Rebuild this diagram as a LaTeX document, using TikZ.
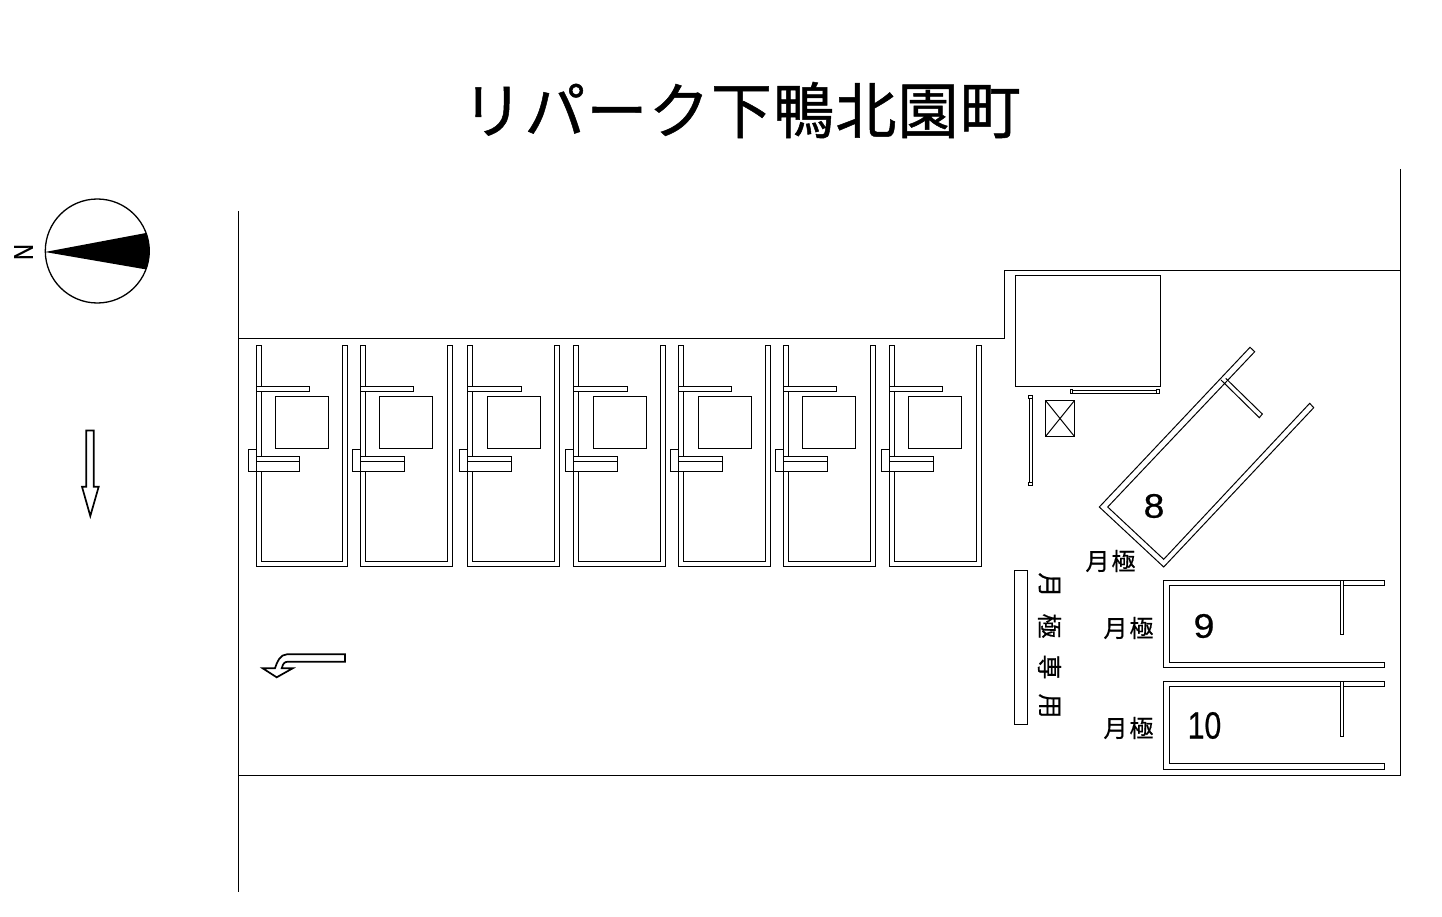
\documentclass[tikz,border=0pt]{standalone}
\usepackage{fontspec}
\setmainfont{Liberation Sans}[FakeBold=0.6]
\newfontfamily\cjk{Noto Sans CJK JP}[FakeBold=0.6]
\newfontfamily\cjktitle{Noto Sans CJK JP}[FakeBold=0.8, LetterSpace=2]
\usetikzlibrary{positioning}
\tikzset{
    wall/.style={draw=black, line width=1.3pt, line join=miter},
    thin wall/.style={draw=black, line width=1pt},
    heavy wall/.style={draw=black, line width=1.7pt},
    solid wall/.style={wall, fill=white},
    monthly/.style={font=\cjk\fontsize{24}{24}\selectfont, inner sep=0pt},
    number/.style={font=\fontsize{34}{34}\selectfont, inner sep=0pt, xscale=1.1}
}

\begin{document}
\begin{tikzpicture}[x=1pt, y=-1pt]
    \useasboundingbox (0,0) rectangle (1442,917);
    % Title
    \node[font=\cjktitle\fontsize{61}{61}\selectfont, inner sep=0pt] (title) at (741.5,110) {リパーク下鴨北園町};
    % Site outline
    \draw[wall] (238.5,211) -- (238.5,892);
    \draw[wall] (238.5,338.5) -- (1004.5,338.5) -- (1004.5,270.5) -- (1400.5,270.5);
    \draw[wall] (1400.5,169) -- (1400.5,775.5) -- (238.5,775.5);
    % Compass
    \draw[wall] (97.3,251) circle[radius=52];
    \fill (45,252) -- (146,233) arc[start angle=-20.5, end angle=20.5, radius=52] -- cycle;
    \node[font=\fontsize{27}{27}\selectfont, inner sep=0pt, rotate=90, xscale=0.8] (north) at (23.5,252) {N};
    % Arrows
    \draw[heavy wall] (86.3,430.5) -- (93.7,430.5) -- (93.7,486.7) -- (98.7,486.7) -- (90.3,516) -- (82,486.7) -- (86.3,486.7) -- cycle;
    \draw[heavy wall] (345,654.3) -- (287,654.3) .. controls (280,654.3) and (277,662) .. (275,668.3) -- (262.7,668.3) -- (276.7,677.3) -- (292.7,668.3) -- (281.7,668.3) .. controls (283,664) and (284,661.7) .. (288,661.7) -- (345,661.7) -- cycle;
    % Parking row
    \foreach \xl/\xr/\xs/\xa/\xb in {256.5/347.5/275.5/309.5/299.5, 360.5/452.5/379.5/413.5/404.5, 467.5/559.5/487.5/521.5/511.5, 573.5/665.5/593.5/627.5/617.5, 678.5/770.5/698.5/731.5/722.5, 783.5/875.5/802.5/836.5/827.5, 889.5/981.5/908.5/942.5/933.5} {
        \pgfmathsetmacro{\xli}{\xl+5}
        \pgfmathsetmacro{\xri}{\xr-5}
        \pgfmathsetmacro{\xt}{\xl-8}
        \draw[wall] (\xl,345.5) -- (\xli,345.5) -- (\xli,561.5) -- (\xri,561.5) -- (\xri,345.5) -- (\xr,345.5) -- (\xr,566.5) -- (\xl,566.5) -- cycle;
        \draw[solid wall] (\xl,386.5) rectangle (\xa,391.5);
        \draw[wall] (\xs,396.5) rectangle ++(53,52);
        \draw[solid wall] (\xt,449.5) rectangle (\xl,471.5);
        \draw[solid wall] (\xl,456.5) rectangle (\xb,471.5);
        \draw[wall] (\xl,461.5) -- (\xb,461.5);
    }
    % Building and fittings
    \draw[wall] (1015.5,275.5) rectangle (1160.5,386.5);
    \draw[thin wall] (1072.7,390) rectangle (1156.7,393);
    \draw[thin wall] (1070.5,389.5) rectangle (1072.7,393.5);
    \draw[thin wall] (1156.7,389.5) rectangle (1159.5,393.5);
    \draw[thin wall] (1029.5,398.5) rectangle (1032.5,482);
    \draw[thin wall] (1028.5,395.5) rectangle (1032.5,398.5);
    \draw[thin wall] (1028.5,482) rectangle (1032.5,485.5);
    \draw[wall] (1045.5,400.5) rectangle (1074.5,436.5);
    \draw[thin wall] (1045.5,400.5) -- (1074.5,436.5);
    \draw[thin wall] (1045.5,436.5) -- (1074.5,400.5);
    % Stall 8
    \draw[thin wall] (1250,347.3) -- (1099.3,507) -- (1163.7,567) -- (1313.7,407.7) -- (1309.7,403.3) -- (1163.7,559.3) -- (1107.7,507) -- (1254.7,351.7) -- cycle;
    \draw[thin wall] (1221,380) -- (1259.3,417.7) -- (1262.3,414) -- (1225.7,378.3);
    % Stalls 9 and 10
    \foreach \yt/\yi/\yb/\yc/\ye in {580.5/585.5/662.5/667.5/634.5, 681.5/686.5/763.5/769.5/736.5} {
        \draw[wall] (1384.5,\yt) -- (1163.5,\yt) -- (1163.5,\yc) -- (1384.5,\yc) -- (1384.5,\yb) -- (1169.5,\yb) -- (1169.5,\yi) -- (1384.5,\yi) -- cycle;
        \draw[solid wall] (1340.5,\yt) rectangle (1343.7,\ye);
    }
    % Reserved sign
    \draw[wall] (1014.5,570.5) rectangle (1027.5,724.5);
    \foreach \y/\ch in {585/月, 626/極, 667/専, 706/用} {
        \node[monthly, font=\cjk\fontsize{25}{25}\selectfont, rotate=-90] at (1049.5,\y) {\ch};
    }
    % Labels
    \node[monthly] (label8) at (1110.5,561) {月\hspace{2pt}極};
    \node[monthly] (label9) at (1128.5,628) {月\hspace{2pt}極};
    \node[monthly] (label10) at (1128.5,728) {月\hspace{2pt}極};
    \node[number] (num8) at (1154,506) {8};
    \node[number] (num9) at (1204,626) {9};
    \node[number, font=\fontsize{38}{38}\selectfont, xscale=0.72] (num10) at (1204.5,725.5) {10};
\end{tikzpicture}
\end{document}
